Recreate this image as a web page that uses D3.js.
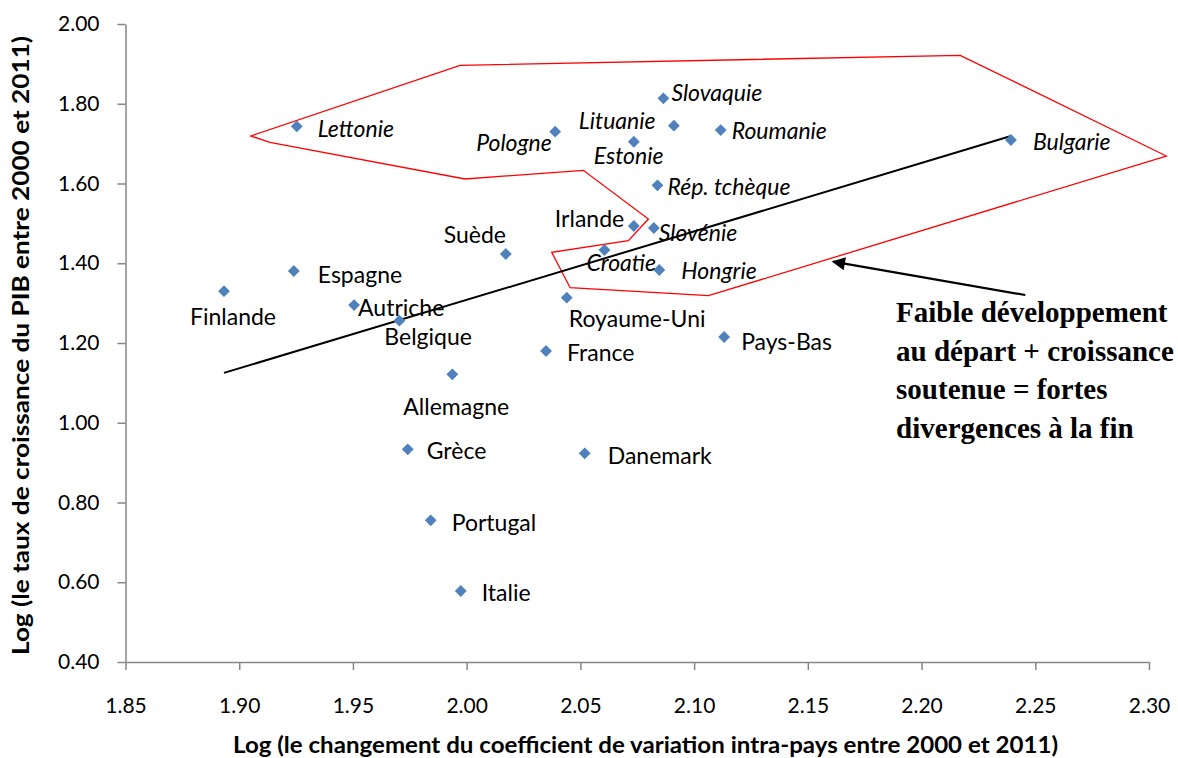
<!DOCTYPE html>
<html>
<head>
<meta charset="utf-8">
<script src="https://cdn.jsdelivr.net/npm/d3@7"></script>
<style>
  html, body { margin: 0; padding: 0; background: #fff; }
  svg { display: block; }
</style>
</head>
<body>
<svg id="chart" width="1178" height="758"></svg>
<script>
// Countries and their coordinates (x: log of intra-country CV change, y: log of GDP growth)
const countries = ["Finlande", "Espagne", "Autriche", "Belgique", "Allemagne", "Suède",
  "Royaume-Uni", "France", "Pays-Bas", "Grèce", "Danemark", "Portugal", "Italie",
  "Lettonie", "Pologne", "Slovaquie", "Lituanie", "Roumanie", "Estonie", "Rép. tchèque",
  "Irlande", "Slovénie", "Croatie", "Hongrie", "Bulgarie"];
const xValues = [1.8933, 1.9240, 1.9505, 1.9704, 1.9937, 2.0172,
  2.0440, 2.0349, 2.1132, 1.9741, 2.0519, 1.9842, 1.9974,
  1.9253, 2.0389, 2.0865, 2.0911, 2.1117, 2.0735, 2.0839,
  2.0735, 2.0823, 2.0606, 2.0847, 2.2393];
const yValues = [1.330, 1.3805, 1.295, 1.256, 1.1214, 1.4232,
  1.3136, 1.180, 1.215, 0.9333, 0.9233, 0.7553, 0.578,
  1.7434, 1.730, 1.8136, 1.745, 1.734, 1.7048, 1.5954,
  1.4934, 1.4884, 1.4332, 1.383, 1.709];
// New member states are labelled in italics
const newMembers = ["Lettonie", "Pologne", "Slovaquie", "Lituanie", "Roumanie", "Estonie",
  "Rép. tchèque", "Slovénie", "Croatie", "Hongrie", "Bulgarie"];

// Axis ticks
const xTicks = [1.85, 1.90, 1.95, 2.00, 2.05, 2.10, 2.15, 2.20, 2.25, 2.30];
const yTicks = [0.40, 0.60, 0.80, 1.00, 1.20, 1.40, 1.60, 1.80, 2.00];

// Linear trend line end points
const trendX = [1.8933, 2.2393];
const trendY = [1.125, 1.719];

// Outline around the high-growth group
const zoneX = [1.9051, 1.9971, 2.2170, 2.3076, 2.1063, 2.0455, 2.0374, 2.0711, 2.0799, 2.0513, 1.9993, 1.9135];
const zoneY = [1.7191, 1.8964, 1.9215, 1.6689, 1.3186, 1.3386, 1.4274, 1.4565, 1.5109, 1.6331, 1.6113, 1.7033];

// Annotation arrow (from, to)
const arrowX = [2.2456, 2.1611];
const arrowY = [1.3203, 1.4039];
const noteLines = ["Faible développement", "au départ + croissance", "soutenue = fortes", "divergences à la fin"];
const noteAnchor = [2.1888, 1.2526];

const xTitle = "Log (le changement du coefficient  de variation  intra-pays entre 2000 et 2011)";
const yTitle = "Log (le taux de croissance  du PIB entre 2000 et 2011)";

// Label placement relative to each marker (pixels: dx to text start, dy to text middle)
const labelOffsets = {
  "Finlande": [-34, 26], "Espagne": [24, 4], "Autriche": [4, 3], "Belgique": [-15, 16],
  "Allemagne": [-49, 33], "Suède": [-62, -19], "Royaume-Uni": [2, 21], "France": [21, 2],
  "Pays-Bas": [17, 5], "Grèce": [19, 2], "Danemark": [23, 3], "Portugal": [21, 3],
  "Italie": [21, 2], "Lettonie": [21, 3], "Pologne": [-79, 11], "Slovaquie": [8, -5],
  "Lituanie": [-95, -5], "Roumanie": [11, 1], "Estonie": [-40, 14], "Rép. tchèque": [10, 2],
  "Irlande": [-79, -7], "Slovénie": [5, 5], "Croatie": [-18, 13], "Hongrie": [22, 1],
  "Bulgarie": [22, 2]
};

const svg = d3.select("#chart");
const plotLeft = 125.5, plotRight = 1149, plotTop = 24, plotBottom = 662;
const x = d3.scaleLinear().domain([1.85, 2.30]).range([plotLeft, plotRight]);
const y = d3.scaleLinear().domain([0.40, 2.00]).range([plotBottom, plotTop]);

const sansFont = "Lato, 'Open Sans', sans-serif";
const axisColor = "#868686";

// Axes
const gx = svg.append("g").attr("transform", `translate(0,${plotBottom})`)
  .call(d3.axisBottom(x).tickValues(xTicks).tickFormat(d3.format(".2f"))
    .tickSizeInner(8).tickSizeOuter(0).tickPadding(28));
const gy = svg.append("g").attr("transform", `translate(${plotLeft},0)`)
  .call(d3.axisLeft(y).tickValues(yTicks).tickFormat(d3.format(".2f"))
    .tickSizeInner(8).tickSizeOuter(0).tickPadding(18));
[gx, gy].forEach(g => {
  g.select(".domain").attr("stroke", axisColor).attr("stroke-width", 1.5);
  g.selectAll(".tick line").attr("stroke", axisColor).attr("stroke-width", 1.5);
  g.selectAll(".tick text").attr("fill", "#000").style("font-family", sansFont).style("font-size", "21px");
});

// Group outline
const zonePts = zoneX.map((v, i) => [x(v), y(zoneY[i])]);
svg.append("path")
  .attr("d", d3.line()(zonePts) + "Z")
  .attr("fill", "none").attr("stroke", "#ff0000").attr("stroke-width", 1.3);

// Trend line
svg.append("line")
  .attr("x1", x(trendX[0])).attr("y1", y(trendY[0]))
  .attr("x2", x(trendX[1])).attr("y2", y(trendY[1]))
  .attr("stroke", "#000").attr("stroke-width", 2);

// Markers
const diamond = d3.symbol().type(d3.symbolSquare).size(70);
svg.append("g").selectAll("path").data(countries).join("path")
  .attr("d", diamond)
  .attr("transform", (d, i) => `translate(${x(xValues[i])},${y(yValues[i])}) rotate(45)`)
  .attr("fill", "#4f81bd");

// Country labels
svg.append("g").selectAll("text").data(countries).join("text")
  .attr("x", (d, i) => x(xValues[i]) + labelOffsets[d][0])
  .attr("y", (d, i) => y(yValues[i]) + labelOffsets[d][1])
  .attr("dy", "0.35em")
  .style("font-family", sansFont).style("font-size", "23px")
  .style("font-style", d => newMembers.includes(d) ? "italic" : "normal")
  .text(d => d);

// Arrow
svg.append("defs").append("marker")
  .attr("id", "arrowhead").attr("viewBox", "0 0 10 10").attr("refX", 9).attr("refY", 5)
  .attr("markerWidth", 7).attr("markerHeight", 6).attr("markerUnits", "strokeWidth")
  .attr("orient", "auto")
  .append("path").attr("d", "M0,0L10,5L0,10Z").attr("fill", "#000");
svg.append("line")
  .attr("x1", x(arrowX[0])).attr("y1", y(arrowY[0]))
  .attr("x2", x(arrowX[1])).attr("y2", y(arrowY[1]))
  .attr("stroke", "#000").attr("stroke-width", 2.2)
  .attr("marker-end", "url(#arrowhead)");

// Annotation text
svg.append("g").selectAll("text").data(noteLines).join("text")
  .attr("x", x(noteAnchor[0]))
  .attr("y", (d, i) => y(noteAnchor[1]) + i * 38.5)
  .style("font-family", "'Liberation Serif', 'Times New Roman', serif")
  .style("font-weight", "bold").style("font-size", "29px")
  .text(d => d);

// Axis titles
svg.append("text")
  .attr("x", 233).attr("y", 753)
  .attr("textLength", 825).attr("lengthAdjust", "spacingAndGlyphs")
  .style("font-family", sansFont).style("font-weight", "bold").style("font-size", "22px")
  .text(xTitle);
svg.append("text")
  .attr("transform", `translate(29,655) rotate(-90)`)
  .attr("textLength", 619).attr("lengthAdjust", "spacingAndGlyphs")
  .style("font-family", sansFont).style("font-weight", "bold").style("font-size", "22px")
  .text(yTitle);
</script>
</body>
</html>
